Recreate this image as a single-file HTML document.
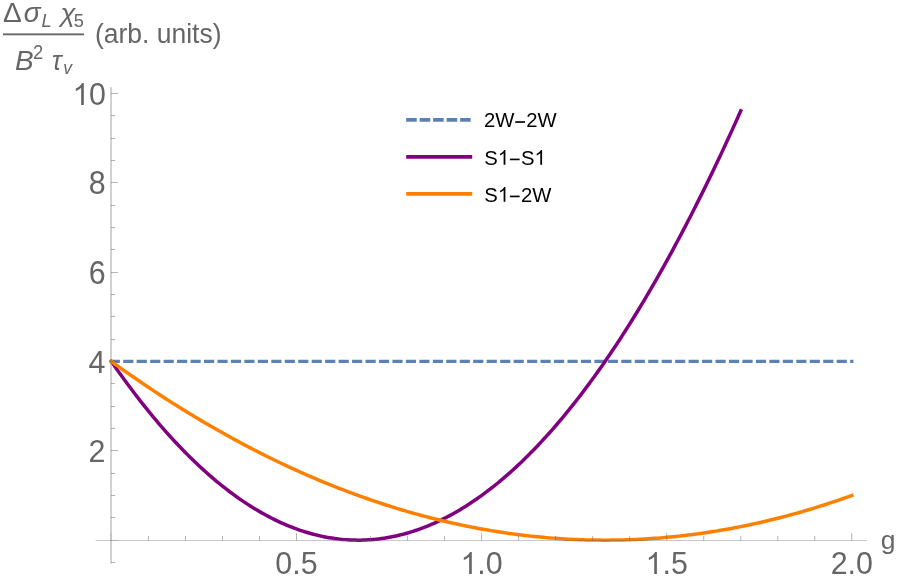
<!DOCTYPE html><html><head><meta charset="utf-8"><style>html,body{margin:0;padding:0;background:#fff}svg{display:block;will-change:transform}text{font-family:"Liberation Sans",sans-serif}</style></head><body>
<svg width="897" height="582" viewBox="0 0 897 582">
<rect width="897" height="582" fill="#fff"/>
<g fill="none" stroke-width="3.25" stroke-linecap="square">
<path d="M111.40 361.49H851.80" stroke="#5e81b5" stroke-dasharray="6.9 6.561" stroke-linecap="square"/>
<path d="M111.40 361.49L114.02 365.27L116.64 369.00L119.27 372.70L121.89 376.35L124.51 379.97L127.13 383.54L129.76 387.08L132.38 390.57L135.00 394.03L137.62 397.44L140.24 400.81L142.87 404.14L145.49 407.44L148.11 410.69L150.73 413.90L153.36 417.07L155.98 420.20L158.60 423.29L161.22 426.34L163.84 429.35L166.47 432.32L169.09 435.25L171.71 438.14L174.33 440.99L176.96 443.80L179.58 446.57L182.20 449.29L184.82 451.98L187.45 454.63L190.07 457.23L192.69 459.80L195.31 462.33L197.93 464.81L200.56 467.26L203.18 469.66L205.80 472.03L208.42 474.35L211.05 476.63L213.67 478.88L216.29 481.08L218.91 483.24L221.53 485.37L224.16 487.45L226.78 489.49L229.40 491.49L232.02 493.45L234.65 495.37L237.27 497.25L239.89 499.09L242.51 500.89L245.13 502.65L247.76 504.37L250.38 506.05L253.00 507.69L255.62 509.29L258.25 510.85L260.87 512.36L263.49 513.84L266.11 515.28L268.74 516.67L271.36 518.03L273.98 519.34L276.60 520.62L279.22 521.86L281.85 523.05L284.47 524.20L287.09 525.32L289.71 526.39L292.34 527.43L294.96 528.42L297.58 529.37L300.20 530.28L302.82 531.16L305.45 531.99L308.07 532.78L310.69 533.53L313.31 534.24L315.94 534.91L318.56 535.54L321.18 536.13L323.80 536.68L326.42 537.19L329.05 537.66L331.67 538.09L334.29 538.47L336.91 538.82L339.54 539.13L342.16 539.40L344.78 539.62L347.40 539.81L350.02 539.95L352.65 540.06L355.27 540.12L357.89 540.15L360.51 540.13L363.14 540.08L365.76 539.98L368.38 539.85L371.00 539.67L373.62 539.45L376.25 539.19L378.87 538.90L381.49 538.56L384.11 538.18L386.74 537.76L389.36 537.30L391.98 536.80L394.60 536.26L397.23 535.68L399.85 535.06L402.47 534.40L405.09 533.70L407.71 532.96L410.34 532.18L412.96 531.35L415.58 530.49L418.20 529.59L420.83 528.65L423.45 527.66L426.07 526.64L428.69 525.57L431.31 524.47L433.94 523.33L436.56 522.14L439.18 520.91L441.80 519.65L444.43 518.34L447.05 517.00L449.67 515.61L452.29 514.18L454.91 512.71L457.54 511.21L460.16 509.66L462.78 508.07L465.40 506.44L468.03 504.77L470.65 503.06L473.27 501.31L475.89 499.52L478.51 497.69L481.14 495.82L483.76 493.91L486.38 491.96L489.00 489.96L491.63 487.93L494.25 485.86L496.87 483.75L499.49 481.59L502.12 479.40L504.74 477.17L507.36 474.89L509.98 472.58L512.60 470.22L515.23 467.83L517.85 465.39L520.47 462.91L523.09 460.40L525.72 457.84L528.34 455.24L530.96 452.61L533.58 449.93L536.20 447.21L538.83 444.45L541.45 441.65L544.07 438.81L546.69 435.94L549.32 433.02L551.94 430.06L554.56 427.05L557.18 424.01L559.80 420.93L562.43 417.81L565.05 414.65L567.67 411.45L570.29 408.21L572.92 404.92L575.54 401.60L578.16 398.24L580.78 394.83L583.40 391.39L586.03 387.90L588.65 384.38L591.27 380.81L593.89 377.21L596.52 373.56L599.14 369.88L601.76 366.15L604.38 362.38L607.01 358.57L609.63 354.73L612.25 350.84L614.87 346.91L617.49 342.94L620.12 338.93L622.74 334.88L625.36 330.80L627.98 326.67L630.61 322.49L633.23 318.28L635.85 314.03L638.47 309.74L641.09 305.41L643.72 301.04L646.34 296.63L648.96 292.17L651.58 287.68L654.21 283.15L656.83 278.57L659.45 273.96L662.07 269.31L664.69 264.61L667.32 259.88L669.94 255.10L672.56 250.29L675.18 245.43L677.81 240.53L680.43 235.60L683.05 230.62L685.67 225.60L688.29 220.54L690.92 215.45L693.54 210.31L696.16 205.13L698.78 199.91L701.41 194.65L704.03 189.35L706.65 184.01L709.27 178.63L711.90 173.21L714.52 167.75L717.14 162.25L719.76 156.71L722.38 151.12L725.01 145.50L727.63 139.84L730.25 134.14L732.87 128.39L735.50 122.61L738.12 116.78L740.74 110.92" stroke="#800080" stroke-width="3.5" stroke-linejoin="round"/>
<path d="M111.40 361.49L114.48 363.72L117.57 365.93L120.66 368.13L123.74 370.31L126.83 372.48L129.91 374.64L133.00 376.78L136.08 378.91L139.16 381.02L142.25 383.12L145.34 385.21L148.42 387.28L151.50 389.34L154.59 391.39L157.68 393.42L160.76 395.44L163.84 397.44L166.93 399.43L170.01 401.40L173.10 403.36L176.19 405.31L179.27 407.24L182.36 409.16L185.44 411.07L188.53 412.96L191.61 414.84L194.69 416.70L197.78 418.55L200.87 420.38L203.95 422.21L207.04 424.01L210.12 425.81L213.21 427.59L216.29 429.35L219.38 431.10L222.46 432.84L225.55 434.57L228.63 436.28L231.72 437.97L234.80 439.65L237.88 441.32L240.97 442.98L244.06 444.62L247.14 446.24L250.22 447.85L253.31 449.45L256.39 451.04L259.48 452.61L262.56 454.16L265.65 455.71L268.74 457.23L271.82 458.75L274.90 460.25L277.99 461.74L281.07 463.21L284.16 464.67L287.25 466.11L290.33 467.54L293.41 468.96L296.50 470.36L299.58 471.75L302.67 473.12L305.75 474.49L308.84 475.83L311.92 477.17L315.01 478.48L318.10 479.79L321.18 481.08L324.26 482.36L327.35 483.62L330.44 484.87L333.52 486.11L336.61 487.33L339.69 488.53L342.77 489.73L345.86 490.91L348.95 492.07L352.03 493.22L355.12 494.36L358.20 495.48L361.29 496.59L364.37 497.69L367.46 498.77L370.54 499.84L373.62 500.89L376.71 501.93L379.79 502.96L382.88 503.97L385.97 504.97L389.05 505.95L392.13 506.92L395.22 507.88L398.30 508.82L401.39 509.75L404.48 510.66L407.56 511.56L410.64 512.45L413.73 513.32L416.81 514.18L419.90 515.03L422.99 515.86L426.07 516.67L429.15 517.48L432.24 518.26L435.33 519.04L438.41 519.80L441.50 520.55L444.58 521.28L447.66 522.00L450.75 522.70L453.84 523.39L456.92 524.07L460.00 524.73L463.09 525.38L466.17 526.02L469.26 526.64L472.35 527.25L475.43 527.84L478.51 528.42L481.60 528.98L484.68 529.54L487.77 530.07L490.85 530.60L493.94 531.11L497.02 531.60L500.11 532.08L503.20 532.55L506.28 533.00L509.37 533.44L512.45 533.87L515.53 534.28L518.62 534.68L521.71 535.06L524.79 535.43L527.88 535.79L530.96 536.13L534.04 536.46L537.13 536.77L540.22 537.07L543.30 537.36L546.38 537.63L549.47 537.89L552.55 538.13L555.64 538.36L558.72 538.58L561.81 538.78L564.89 538.97L567.98 539.15L571.07 539.31L574.15 539.45L577.24 539.58L580.32 539.70L583.40 539.81L586.49 539.90L589.58 539.98L592.66 540.04L595.75 540.09L598.83 540.12L601.91 540.14L605.00 540.15L608.08 540.14L611.17 540.12L614.25 540.09L617.34 540.04L620.42 539.98L623.51 539.90L626.59 539.81L629.68 539.70L632.76 539.58L635.85 539.45L638.93 539.31L642.02 539.15L645.10 538.97L648.19 538.78L651.27 538.58L654.36 538.36L657.45 538.13L660.53 537.89L663.62 537.63L666.70 537.36L669.78 537.07L672.87 536.77L675.95 536.46L679.04 536.13L682.12 535.79L685.21 535.43L688.29 535.06L691.38 534.68L694.46 534.28L697.55 533.87L700.63 533.44L703.72 533.00L706.80 532.55L709.89 532.08L712.97 531.60L716.06 531.11L719.14 530.60L722.23 530.07L725.31 529.54L728.40 528.98L731.49 528.42L734.57 527.84L737.65 527.25L740.74 526.64L743.82 526.02L746.91 525.38L750.00 524.73L753.08 524.07L756.16 523.39L759.25 522.70L762.33 522.00L765.42 521.28L768.50 520.55L771.59 519.80L774.67 519.04L777.76 518.26L780.84 517.48L783.93 516.67L787.01 515.86L790.10 515.03L793.18 514.18L796.27 513.32L799.36 512.45L802.44 511.56L805.52 510.66L808.61 509.75L811.69 508.82L814.78 507.88L817.87 506.92L820.95 505.95L824.03 504.97L827.12 503.97L830.20 502.96L833.29 501.93L836.37 500.89L839.46 499.84L842.54 498.77L845.63 497.69L848.71 496.59L851.80 495.48" stroke="#ff8000" stroke-width="3.5" stroke-linejoin="round"/>
</g>
<g stroke="#666" stroke-width="0.5" fill="none">
<path d="M95.6 540.5H867.1" stroke-width="0.36"/>
<path d="M111.0 87.2V563.6" stroke-width="0.6"/>
<path d="M148.42 540.5v-4.5M185.44 540.5v-4.5M222.46 540.5v-4.5M259.48 540.5v-4.5M296.50 540.5v-7.4M333.52 540.5v-4.5M370.54 540.5v-4.5M407.56 540.5v-4.5M444.58 540.5v-4.5M481.60 540.5v-7.4M518.62 540.5v-4.5M555.64 540.5v-4.5M592.66 540.5v-4.5M629.68 540.5v-4.5M666.70 540.5v-7.4M703.72 540.5v-4.5M740.74 540.5v-4.5M777.76 540.5v-4.5M814.78 540.5v-4.5M851.80 540.5v-7.4"/>
<path d="M111.0 562.50h4.2M111.0 517.50h4.2M111.0 495.50h4.2M111.0 473.50h4.2M111.0 450.50h6.9M111.0 428.50h4.2M111.0 406.50h4.2M111.0 383.50h4.2M111.0 361.50h6.9M111.0 339.50h4.2M111.0 316.50h4.2M111.0 294.50h4.2M111.0 272.50h6.9M111.0 249.50h4.2M111.0 227.50h4.2M111.0 205.50h4.2M111.0 182.50h6.9M111.0 160.50h4.2M111.0 138.50h4.2M111.0 115.50h4.2M111.0 93.50h6.9"/>
<path d="M111.0 540.5v-7.4M111.0 540.5h6.9" stroke-width="0.22"/>
</g>
<g fill="#666" font-size="30.4">
<text transform="translate(88.40 462.22) scale(1 1.043)" font-size="30.4">2</text>
<text transform="translate(88.40 372.89) scale(1 1.043)" font-size="30.4">4</text>
<text transform="translate(88.75 283.66) scale(1 1.075)" font-size="30.4">6</text>
<text transform="translate(88.70 194.38) scale(1 1.065)" font-size="30.4">8</text>
<path transform="translate(72.50 104.90) scale(0.014844 -0.014844)" d="M763 0H583V1147Q518 1085 412.5 1023Q307 961 223 930V1104Q374 1175 487 1276Q600 1377 647 1472H763Z"/><text transform="translate(88.90 104.90) scale(1 1.043)" font-size="30.4">0</text>
<text transform="translate(275.37 573.90) scale(1 1.043)" font-size="30.4">0.5</text>
<path transform="translate(460.47 573.90) scale(0.014844 -0.014844)" d="M763 0H583V1147Q518 1085 412.5 1023Q307 961 223 930V1104Q374 1175 487 1276Q600 1377 647 1472H763Z"/><text transform="translate(477.37 573.90) scale(1 1.043)" font-size="30.4">.0</text>
<path transform="translate(645.57 573.90) scale(0.014844 -0.014844)" d="M763 0H583V1147Q518 1085 412.5 1023Q307 961 223 930V1104Q374 1175 487 1276Q600 1377 647 1472H763Z"/><text transform="translate(662.47 573.90) scale(1 1.043)" font-size="30.4">.5</text>
<text transform="translate(830.67 573.90) scale(1 1.043)" font-size="30.4">2.0</text>
</g>
<text transform="translate(880.8 549.3) scale(1 1.003)" font-size="26.5" fill="#666">g</text>
<g fill="#666" font-size="26">
<text x="2.95" y="21.7" font-size="28">Δ</text>
<text x="23.7" y="21.9" font-style="italic" font-size="27.8">σ</text>
<text x="41.5" y="27.3" font-style="italic" font-size="18.4">L</text>
<text transform="translate(60.4 21.9) scale(1 0.932)" font-style="italic" font-size="27.5">χ</text>
<text x="73.8" y="27.4" font-size="18.2">5</text>
<rect x="3" y="33.4" width="81" height="1.9"/>
<text transform="translate(15.0 69.6) scale(1 1.02)" font-style="italic" font-size="28">B</text>
<text transform="translate(32.9 58.6) scale(1 1.06)" font-size="18.4">2</text>
<text transform="translate(52 69.9) scale(1 1.03)" font-style="italic">τ</text>
<text x="63.2" y="74.4" font-style="italic" font-size="17.5">v</text>
<text transform="translate(94.9 43.4) scale(1 1.043)" font-size="26.5">(arb. units)</text>
</g>
<g fill="none" stroke-width="3.85">
<path d="M408.1 119.8H469.5" stroke="#5e81b5" stroke-dasharray="6.74 6.74" stroke-linecap="square"/>
<path d="M406.2 156.9H472.2" stroke="#800080"/>
<path d="M406.2 193.8H472.2" stroke="#ff8000"/>
</g>
<g fill="#000" font-size="20">
<text transform="translate(484.00 127.30) scale(1 1.03)" font-size="20.3">2W</text><rect x="515.25" y="121.20" width="9.70" height="1.65"/><text transform="translate(526.31 127.30) scale(1 1.03)" font-size="20.3">2W</text>
<text transform="translate(484.30 164.70) scale(1 1.03)" font-size="20.3">S</text><path transform="translate(497.84 164.70) scale(0.009912 -0.009912)" d="M763 0H583V1147Q518 1085 412.5 1023Q307 961 223 930V1104Q374 1175 487 1276Q600 1377 647 1472H763Z"/><rect x="509.93" y="158.60" width="9.70" height="1.65"/><text transform="translate(520.98 164.70) scale(1 1.03)" font-size="20.3">S</text><path transform="translate(534.52 164.70) scale(0.009912 -0.009912)" d="M763 0H583V1147Q518 1085 412.5 1023Q307 961 223 930V1104Q374 1175 487 1276Q600 1377 647 1472H763Z"/>
<text transform="translate(484.30 201.70) scale(1 1.03)" font-size="20.3">S</text><path transform="translate(497.84 201.70) scale(0.009912 -0.009912)" d="M763 0H583V1147Q518 1085 412.5 1023Q307 961 223 930V1104Q374 1175 487 1276Q600 1377 647 1472H763Z"/><rect x="509.93" y="195.60" width="9.70" height="1.65"/><text transform="translate(520.98 201.70) scale(1 1.03)" font-size="20.3">2W</text>
</g>
</svg></body></html>
